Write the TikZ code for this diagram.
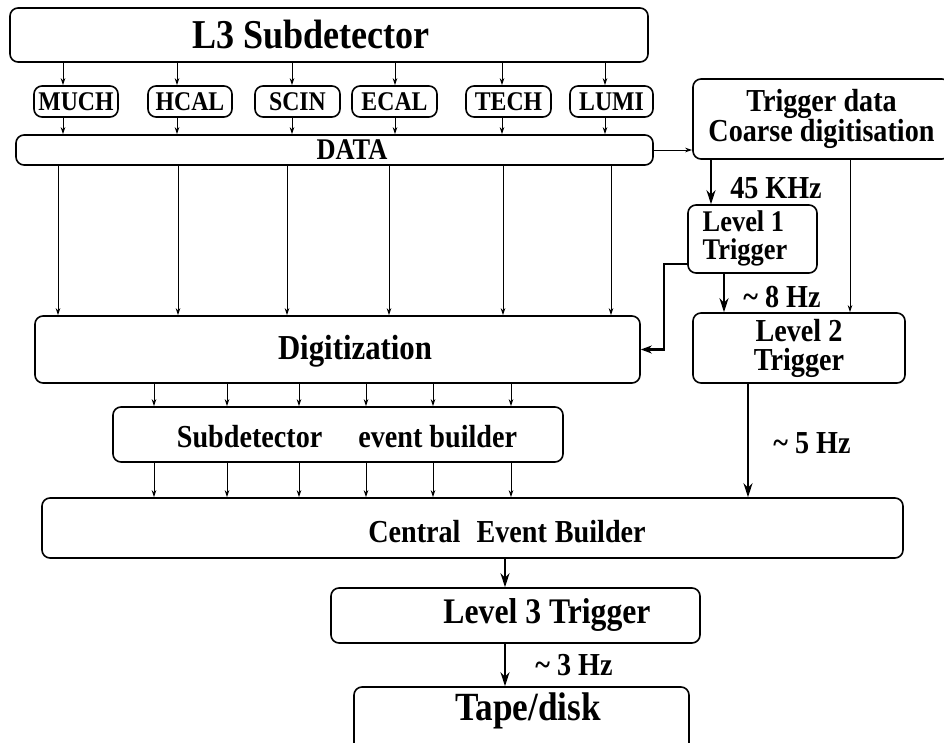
\documentclass[tikz,border=0pt]{standalone}
\usepackage{fontspec}
\setmainfont{Liberation Serif}[FakeStretch=0.88]
\usetikzlibrary{arrows.meta}
\newcommand{\fsz}[2]{\bfseries\fontsize{#1}{#2}\selectfont}
\begin{document}
\begin{tikzpicture}[x=1pt,y=-1pt,
  box/.style={draw, line width=1.6pt, rounded corners=8pt, inner sep=0pt},
  lbl/.style={inner sep=0pt, align=center},
  thinarrow/.style={line width=0.9pt, -{Stealth[length=7pt,width=4.5pt]}},
  thickarrow/.style={line width=2.2pt, -{Stealth[length=14pt,width=9pt]}},
]
\useasboundingbox (0,0) rectangle (944,743);

% boxes
\node[box, minimum width=638pt, minimum height=54pt] (l3) at (329,35) {};
\node[box, minimum width=84pt, minimum height=31pt, font=\fsz{27}{27}] (much) at (76,101.5) {MUCH};
\node[box, minimum width=84pt, minimum height=31pt, font=\fsz{27}{27}] (hcal) at (190,101.5) {HCAL};
\node[box, minimum width=85pt, minimum height=31pt, font=\fsz{27}{27}] (scin) at (297.5,101.5) {SCIN};
\node[box, minimum width=85pt, minimum height=31pt, font=\fsz{27}{27}] (ecal) at (394.5,101.5) {ECAL};
\node[box, minimum width=85pt, minimum height=31pt, font=\fsz{27}{27}] (tech) at (508.5,101.5) {TECH};
\node[box, minimum width=83pt, minimum height=31pt, font=\fsz{27}{27}] (lumi) at (611.5,101.5) {LUMI};
\node[box, minimum width=637pt, minimum height=30pt] (data) at (334.5,150) {};
\node[box, minimum width=257pt, minimum height=80pt, align=center, font=\fsz{32}{29}] (trig) at (821.5,119)
  {Trigger data\\Coarse digitisation};
\node[box, minimum width=129pt, minimum height=68pt] (lvl1) at (752.5,239) {};
\node[box, minimum width=605pt, minimum height=67pt] (dig) at (337.5,349.5) {};
\node[box, minimum width=212pt, minimum height=70pt, align=center, font=\fsz{32}{29}] (lvl2) at (799,348)
  {Level 2\\Trigger};
\node[box, minimum width=450pt, minimum height=55pt] (sub) at (338,434.5) {};
\node[box, minimum width=861pt, minimum height=60pt] (central) at (472.5,528) {};
\node[box, minimum width=369pt, minimum height=55pt] (lvl3) at (515.5,615.5) {};
\node[box, minimum width=335pt, minimum height=80pt] (tape) at (521.5,727) {};

% texts
\node[lbl, font=\fsz{41}{41}] (tl3) at (311,35) {L3 Subdetector};
\node[lbl, font=\fsz{30}{30}] (tdata) at (352,150) {DATA};
\node[lbl, font=\fsz{30}{28}, align=left] (tlvl1) at (745,238) {Level 1\\Trigger};
\node[lbl, font=\fsz{35}{35}] (tdig) at (355,351) {Digitization};
\node[lbl, font=\fsz{32}{32}] (tsub) at (347,437) {Subdetector\hspace{36pt}event builder};
\node[lbl, font=\fsz{32}{32}] (tcen) at (507,532) {Central\hspace{16pt}Event\hspace{8pt}Builder};
\node[lbl, font=\fsz{36}{36}] (tlvl3) at (547,615) {Level 3 Trigger};
\node[lbl, font=\fsz{40}{40}] (ttape) at (528,711) {Tape/disk};
\node[lbl, font=\fsz{32}{32}] (r45) at (776,188) {45 KHz};
\node[lbl, font=\fsz{32}{32}] (r8) at (782,297) {\char`\~{} 8 Hz};
\node[lbl, font=\fsz{32}{32}] (r5) at (812,443) {\char`\~{} 5 Hz};
\node[lbl, font=\fsz{32}{32}] (r3) at (574,665) {\char`\~{} 3 Hz};

% L3 -> subdetectors -> DATA
\foreach \x/\n in {63/much,177/hcal,292/scin,395/ecal,502/tech,605/lumi} {
  \coordinate (t) at (\x,0);
  \draw[thinarrow] (l3.south -| t) -- (\n.north -| t);
  \draw[thinarrow] (\n.south -| t) -- (data.north -| t);
}
% DATA -> Digitization
\foreach \x in {58,178,287,389,503,611} {
  \coordinate (t) at (\x,0);
  \draw[thinarrow] (data.south -| t) -- (dig.north -| t);
}
% Digitization -> Subdetector event builder -> Central
\foreach \x in {154,227,299,366,433,511} {
  \coordinate (t) at (\x,0);
  \draw[thinarrow] (dig.south -| t) -- (sub.north -| t);
  \draw[thinarrow] (sub.south -| t) -- (central.north -| t);
}
% DATA -> trigger data
\draw[thinarrow] (data.east) -- (trig.west |- data.east);
% trigger chain
\coordinate (c1) at (711,0);
\draw[thickarrow] (trig.south -| c1) -- (lvl1.north -| c1);
\coordinate (c2) at (850,0);
\draw[thinarrow] (trig.south -| c2) -- (lvl2.north -| c2);
\coordinate (c3) at (724,0);
\draw[thickarrow] (lvl1.south -| c3) -- (lvl2.north -| c3);
\coordinate (k) at (664,264);
\draw[line width=2.2pt, -{Stealth[length=11pt,width=8pt]}] (lvl1.west |- k) -- (k) |- (dig.east);
\coordinate (c4) at (748,0);
\draw[thickarrow] (lvl2.south -| c4) -- (central.north -| c4);
\coordinate (c5) at (505,0);
\draw[thickarrow] (central.south -| c5) -- (lvl3.north -| c5);
\draw[thickarrow] (lvl3.south -| c5) -- (tape.north -| c5);
\end{tikzpicture}
\end{document}
